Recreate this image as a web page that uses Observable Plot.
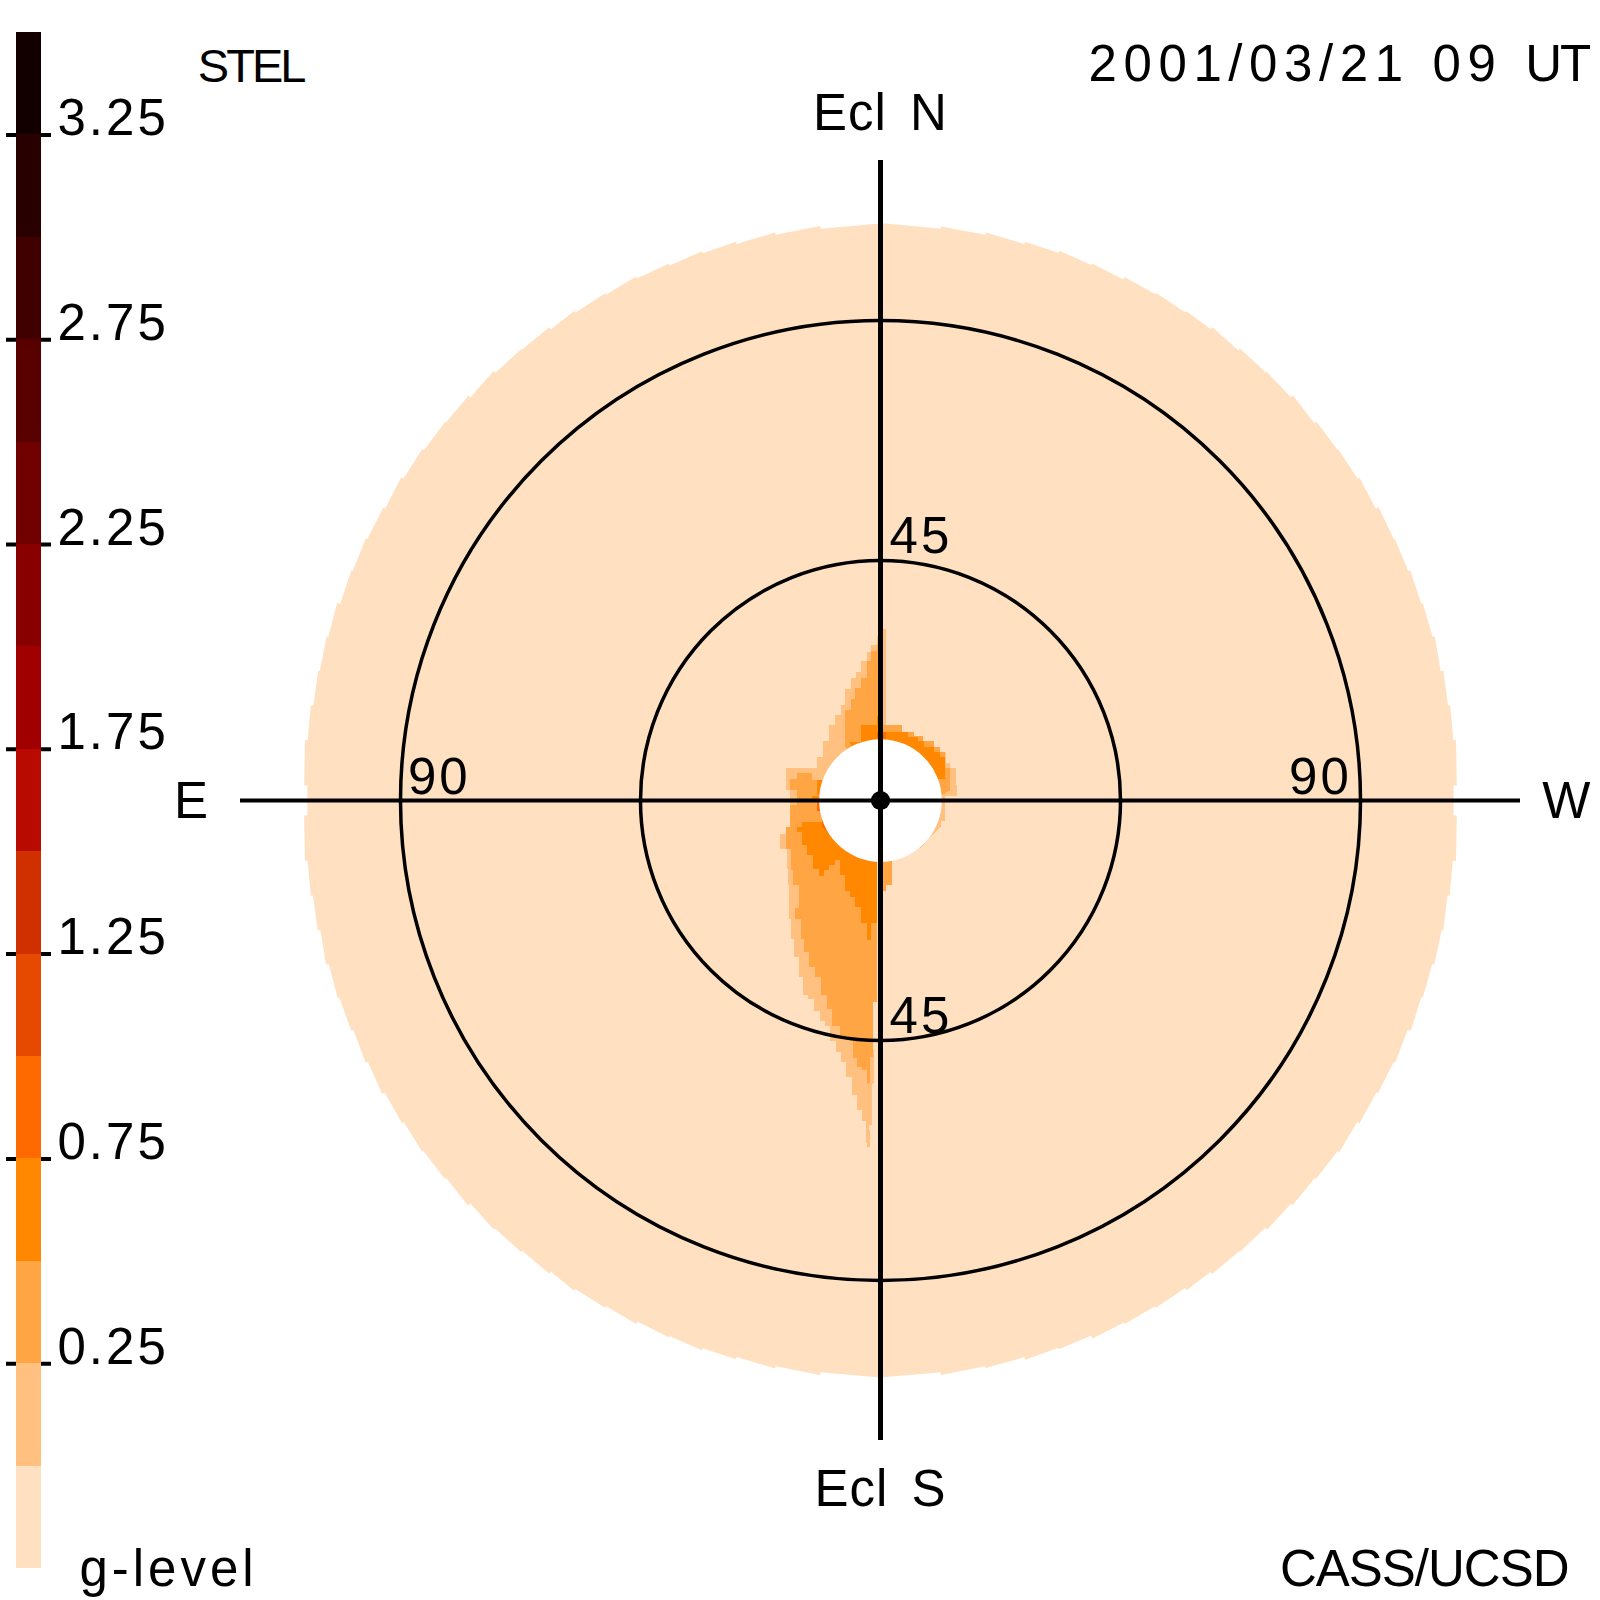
<!DOCTYPE html>
<html>
<head>
<meta charset="utf-8">
<script src="https://cdn.jsdelivr.net/npm/d3@7"></script>
<script src="https://cdn.jsdelivr.net/npm/@observablehq/plot@0.6"></script>
<style>
html,body{margin:0;padding:0;background:#fff}
#chart{position:relative;width:1600px;height:1600px;overflow:hidden}
#chart svg{position:absolute;left:0;top:0}
.t-num text{letter-spacing:3px}
.t-stel text{letter-spacing:-3px;font-size:47px}
.t-date text{letter-spacing:6.6px;word-spacing:2px}
.t-date tspan{letter-spacing:-2px}
.t-ecl text{letter-spacing:1px;word-spacing:8px}
.t-glevel text{letter-spacing:4px}
.t-cass text{letter-spacing:-1px}
.t-side text{letter-spacing:0}
</style>
</head>
<body>
<div id="chart"></div>
<script>
// colour bar: lower bound of each g-level band, and its colour
const gLevels = [-0.25,0,0.25,0.5,0.75,1,1.25,1.5,1.75,2,2.25,2.5,2.75,3,3.25];
const gColors = ["#ffe0c1","#ffc080","#ffa544","#ff8800","#ff6a00","#e64a00","#d03000","#b80a00","#a00000","#880000","#700000","#580000","#400000","#280000","#120000"];
const gTicks = [0.25,0.75,1.25,1.75,2.25,2.75,3.25];
const gTickLabels = ["0.25","0.75","1.25","1.75","2.25","2.75","3.25"];

// elongation rings and central discs (degrees)
const ringElongations = [45,90];
const sunDisc = [11.5];
const centreDot = [1.8];
const axisHalfLength = [120];

// outer edge of the sky map: azimuth clockwise from N, radius at start and end of each sector
const edgeAz = [0,6,10.5,14.5,18,21.5,25,28.5,32,35,38.5,42,45.5,49,52.5,56,59.5,63,66.5,70,73.5,77,80.5,84,88.5,
  91.5,96,99.5,103,106.5,110,113.5,117,120.5,124,127.5,131,134.5,138,141.5,145,148,151.5,155,158.5,162,165.5,169.5,174,180,
  186,190.5,194.5,198,201.5,205,208.5,212,215,218.5,222,225.5,229,232.5,236,239.5,243,246.5,250,253.5,257,260.5,264,268.5,
  271.5,276,279.5,283,286.5,290,293.5,297,300.5,304,307.5,311,314.5,318,321.5,325,328,331.5,335,338.5,342,345.5,349.5,354,360];
const edgeStart = [108.3,108.2,108.3,108.2,108.4,108.2,108.3,108.3,108.2,108.4,108.3,108.2,108.4,108.3,108.2,108.3,108.4,108.2,108.3,108.2,108.4,108.3,108.3,108.5,
  107.5,
  108.1,107.9,107.8,108.0,107.9,107.9,107.8,108.0,107.9,107.8,108.0,107.9,107.9,107.8,108.0,107.9,107.8,107.9,108.0,107.8,107.9,107.8,107.9,107.8,
  108.2,108.3,108.3,108.2,108.4,108.2,108.3,108.2,108.4,108.3,108.2,108.3,108.4,108.2,108.3,108.2,108.4,108.3,108.2,108.3,108.4,108.3,108.3,108.5,
  107.5,
  108.1,108.0,107.8,107.9,108.0,107.8,107.9,108.0,107.8,107.9,107.9,108.0,107.8,107.9,108.0,107.8,107.9,107.9,108.0,107.8,107.9,107.8,107.9,107.8];
const edgeEnd = [107.8,107.9,107.8,108.0,107.9,107.8,108.0,107.9,107.9,107.8,108.0,107.9,107.8,108.0,107.9,107.8,108.0,107.9,107.9,108.0,107.8,107.9,108.0,108.1,
  107.5,
  108.5,108.2,108.3,108.3,108.2,108.4,108.3,108.2,108.3,108.4,108.2,108.3,108.3,108.2,108.4,108.3,108.2,108.3,108.4,108.2,108.3,108.2,108.3,108.2,
  107.8,107.9,107.8,108.0,107.9,107.8,107.9,108.0,107.8,107.9,108.0,107.8,107.9,108.0,107.8,107.9,107.9,107.8,108.0,107.9,107.8,107.9,108.0,108.1,
  107.5,
  108.5,108.3,108.2,108.3,108.4,108.2,108.3,108.2,108.4,108.3,108.2,108.3,108.4,108.2,108.3,108.3,108.2,108.4,108.2,108.3,108.2,108.3,108.3,108.2];

// g-level contours of the plume: [east-west deg, north-south deg]
const band0Main = [[1.1,15.9],[1.1,32.1],[0.4,32.1],[0.4,30.9],[-0.6,30.9],[-0.6,30],[-0.6,29.1],[-1.7,29.1],[-1.7,27.9],[-2.6,27.9],[-2.6,26.1],[-3.6,26.1],[-3.6,24.1],[-4.6,24.1],[-4.6,23],[-5.6,23],[-5.6,20.9],[-6.6,20.9],[-6.6,18],[-7.5,18],[-7.5,16.1],[-8.6,16.1],[-8.6,14.1],[-9.6,14.1],[-9.6,11.1],[-10.8,11.1],[-10.8,8.1],[-11.9,8.1],[-11.9,6.1],[-17.8,6.1],[-17.8,2],[-16.9,2],[-16.9,-5],[-17.8,-5],[-17.8,-6.25],[-18.8,-6.25],[-18.8,-9.1],[-17.6,-9.1],[-17.6,-12.8],[-17.4,-12.8],[-17.4,-15.9],[-17.1,-15.9],[-17.1,-22.2],[-16.8,-22.2],[-16.8,-25.9],[-16.3,-25.9],[-16.3,-29.4],[-15.3,-29.4],[-15.3,-33.1],[-14.6,-33.1],[-14.6,-36.4],[-13.6,-36.4],[-13.6,-37.3],[-12.5,-37.3],[-12.5,-39.4],[-11.4,-39.4],[-11.4,-41.25],[-10.5,-41.25],[-10.5,-42.2],[-9.5,-42.2],[-9.5,-45],[-8.4,-45],[-8.4,-47.1],[-7.5,-47.1],[-7.5,-49.1],[-6.4,-49.1],[-6.4,-51.9],[-5.4,-51.9],[-5.4,-55.2],[-4.4,-55.2],[-4.4,-58.1],[-3.5,-58.1],[-3.5,-60],[-2.75,-60],[-2.75,-63.5],[-2.5,-65],[-1.9,-65],[-2.1,-60.9],[-1.6,-60.9],[-1.6,-53.1],[-1.25,-53],[-1.25,-48],[-1.4,-45],[-1.4,-37.8],[-0.75,-37.8],[-0.75,-11.25],[0,0]];
const band0West = [[0.5,14.1],[4.1,14.1],[4.1,12.9],[6.25,12.9],[6.25,12.1],[8,12.1],[8,11.1],[10,11.1],[10,10.1],[11.1,10.1],[11.1,9.1],[12.2,9.1],[12.2,7.1],[13.1,7.1],[13.1,6.1],[14.2,6.1],[14.2,3],[14.3,3],[14.3,0.9],[12,0.9],[12,-0.6],[12.1,-3.75],[11.25,-3.75],[11.25,-5],[9.3,-6.9],[7.6,-8.8],[1.25,-11.25],[0,0]];
const band25Upper = [[0,29.4],[-0.6,29.4],[-0.6,28.1],[-1.7,28.1],[-1.7,26.1],[-2.6,26.1],[-2.6,23],[-3.6,23],[-3.6,21.1],[-4.7,21.1],[-4.7,19.1],[-5.6,19.1],[-5.6,17],[-6.6,17],[-6.6,10],[0,0]];
const band25South = [[-11.25,3.9],[-12.8,3.9],[-12.8,5.1],[-15.75,5.1],[-15.75,4.1],[-16.9,4.1],[-16.9,1.9],[-15.75,1.9],[-15.75,-0.9],[-16.9,-0.9],[-16.9,-5],[-17.8,-5],[-17.8,-9.1],[-16.7,-9.1],[-16.7,-13],[-16.4,-13],[-16.4,-15.9],[-15.3,-15.9],[-15.3,-20.1],[-16.1,-20.1],[-16.1,-22.2],[-15,-22.2],[-15,-25.9],[-14.4,-25.9],[-14.4,-28.4],[-13.4,-28.4],[-13.4,-31.25],[-12.3,-31.25],[-12.3,-33.1],[-11.25,-33.1],[-11.25,-36.4],[-10.1,-36.4],[-10.1,-39.1],[-9.1,-39.1],[-9.1,-42.2],[-7.6,-42.2],[-7.6,-44.4],[-5.9,-45],[-5.2,-45],[-5.2,-48.25],[-4.4,-48.25],[-4.4,-50],[-3.4,-50],[-3.4,-50.6],[-2.6,-50.6],[-2.6,-53],[-1.9,-53],[-1.9,-48.1],[-1.4,-48],[-1.4,-37.8],[-0.75,-37.8],[-0.75,-11.25],[0,0]];
const band25West = [[0.5,14.1],[4.1,14.1],[4.1,12.9],[6.25,12.9],[6.25,12.1],[8,12.1],[8,11.1],[10,11.1],[10,10.1],[11.1,10.1],[11.1,9.1],[12,9.1],[12,6.1],[13.1,6.1],[13.1,1.9],[11.25,0.9],[0,0]];
const band25Right = [[0.5,-11.25],[2.2,-11.25],[2.2,-15.9],[1.1,-15.9],[1.1,-17],[0.5,-17],[0,0]];
const band50Top = [[-3.75,14.1],[-0.6,14.1],[-0.6,15.9],[0.5,15.9],[0.5,12.9],[3.1,12.9],[5.1,12.9],[5.1,12],[7,12],[7,11.1],[8.1,11.1],[8.1,10.1],[10,10.1],[10,9.1],[11.1,9.1],[11.1,8.1],[12,8.1],[12.2,4.1],[11.25,4.1],[0,0],[-5.8,10.9],[-3.75,10.9]];
const band50Lobe = [[-11.9,3.9],[-10,3.9],[-10,1],[-11.9,1]];
const band50Nub = [[-12.8,0.9],[-10,0.9],[-10,-1.9],[-11.6,-1.9],[-11.6,-0.1],[-12.8,-0.1]];
const band50South = [[-10.9,-3.1],[-10.9,-4.1],[-14.7,-4.1],[-14.7,-5],[-15.75,-5],[-15.75,-5.9],[-14.8,-5.9],[-14.8,-8.4],[-13.75,-8.4],[-13.75,-10.3],[-12.6,-10.3],[-12.6,-12.8],[-11.6,-12.8],[-11.6,-14.1],[-10.6,-14.1],[-10.6,-13],[-9.7,-13],[-9.7,-12],[-8.6,-12],[-8.6,-11.1],[-7.6,-11.1],[-7.6,-13.9],[-6.7,-13.9],[-6.7,-17],[-5.75,-17],[-5.75,-18],[-4.7,-18],[-4.7,-20],[-3.6,-20],[-3.6,-23],[-2.6,-23],[-2.6,-26.1],[-1.7,-26.1],[-1.7,-23],[-0.75,-23],[-0.75,-10.9],[0,0]];
const band75Top = [[-0.6,12.8],[1.1,12.8],[1.1,11.4],[-0.6,11.4]];
const band75Nub = [[-11.9,0],[-10.5,0],[-10.5,-1.9],[-11.9,-1.9]];
const band75South = [[-10.9,-3.9],[-10.9,-4.9],[-9.9,-5.9],[-9.5,-5.9],[-9.5,-4]];

// text
const labelNum = ["90","90","45","45"];
const labelNumX = [-88.6,76.6,1.7,1.7];
const labelNumY = [1.3,1.3,46.5,-43.5];
const eclLabels = ["Ecl N","Ecl S"];
const eclY = [125.8,-132.2];
const sideLabels = ["E","W"];
const sideX = [-129.3,128.6];
const sideY = [-3.2,-3.2];

// tables for the marks
const edgeTable = edgeStart.flatMap((r,i) => [[edgeAz[i],r],[edgeAz[i+1],edgeEnd[i]]])
  .map(([az,r]) => ({part:"disc",level:-0.25,x:r*Math.sin(az*Math.PI/180),y:r*Math.cos(az*Math.PI/180)}));
const contours = [
  ["b0m",0,band0Main],["b0w",0,band0West],
  ["b25u",0.25,band25Upper],["b25s",0.25,band25South],["b25w",0.25,band25West],["b25r",0.25,band25Right],
  ["b50t",0.5,band50Top],["b50l",0.5,band50Lobe],["b50n",0.5,band50Nub],["b50s",0.5,band50South],
  ["b75t",0.75,band75Top],["b75n",0.75,band75Nub],["b75s",0.75,band75South]
];
const contourTable = contours.flatMap(([part,level,pts]) => pts.map(([x,y]) => ({part,level,x,y})));
const colorScale = {type:"ordinal",domain:gLevels,range:gColors};
const font = "'Liberation Sans', sans-serif";
const txt = {fontSize:51,lineAnchor:"bottom",fill:"black",fontFamily:font};

const main = Plot.plot({
  width:1600,height:1600,margin:0,
  x:{domain:[-165,135],axis:null},
  y:{domain:[-150,150],axis:null},
  r:{type:"linear",domain:[0,90],range:[0,480]},
  color:colorScale,
  style:{background:"white",fontFamily:font},
  marks:[
    Plot.line(edgeTable,{x:"x",y:"y",z:"part",fill:"level",stroke:"none"}),
    Plot.line(contourTable,{x:"x",y:"y",z:"part",fill:"level",stroke:"none",shapeRendering:"crispEdges"}),
    Plot.dot(sunDisc,{x:()=>0,y:()=>0,r:d=>d,fill:"white",stroke:"none"}),
    Plot.dot(ringElongations,{x:()=>0,y:()=>0,r:d=>d,fill:"none",stroke:"black",strokeWidth:3.5}),
    Plot.ruleX([0],{y1:d=>-axisHalfLength[0],y2:d=>axisHalfLength[0],stroke:"black",strokeWidth:5}),
    Plot.ruleY([0],{x1:d=>-axisHalfLength[0],x2:d=>axisHalfLength[0],stroke:"black",strokeWidth:4}),
    Plot.dot(centreDot,{x:()=>0,y:()=>0,r:d=>d,fill:"black",stroke:"none"}),
    Plot.text(labelNum,{x:(d,i)=>labelNumX[i],y:(d,i)=>labelNumY[i],text:d=>d,textAnchor:"start",className:"t-num",...txt}),
    Plot.text(eclLabels,{x:()=>0,y:(d,i)=>eclY[i],text:d=>d,textAnchor:"middle",className:"t-ecl",...txt}),
    Plot.text(sideLabels,{x:(d,i)=>sideX[i],y:(d,i)=>sideY[i],text:d=>d,textAnchor:"middle",className:"t-side",...txt}),
    Plot.text(["STEL"],{x:()=>-128,y:()=>134.8,text:d=>d,textAnchor:"start",className:"t-stel",...txt}),
    Plot.text(["2001/03/21 09 UT"],{x:()=>39,y:()=>135,text:d=>d,textAnchor:"start",className:"t-date",...txt}),
    Plot.text(["g-level"],{x:()=>-150.2,y:()=>-147.3,text:d=>d,textAnchor:"start",className:"t-glevel",...txt}),
    Plot.text(["CASS/UCSD"],{x:()=>74.9,y:()=>-147.3,text:d=>d,textAnchor:"start",className:"t-cass",...txt})
  ]
});

const bar = Plot.plot({
  width:1600,height:1600,marginLeft:16,marginRight:1559,marginTop:32,marginBottom:32,
  x:{domain:[0,1],axis:null},
  y:{domain:[-0.25,3.5],axis:null},
  color:colorScale,
  style:{background:"transparent",fontFamily:font},
  marks:[
    Plot.ruleY(gTicks,{x1:()=>-0.4,x2:()=>1.4,stroke:"black",strokeWidth:4}),
    Plot.rect(gLevels,{x1:()=>0,x2:()=>1,y1:d=>d,y2:d=>d+0.25,fill:d=>d,shapeRendering:"crispEdges"}),
    Plot.text(gTickLabels,{x:()=>1.64,y:(d,i)=>gTicks[i],text:d=>d,textAnchor:"start",className:"t-num",...txt})
  ]
});
// tighten only the last word of the date line, keeping it one text
const dateText = main.querySelector(".t-date text");
if (dateText) dateText.innerHTML = '2001/03/21 09 <tspan>UT</tspan>';
document.getElementById("chart").append(main,bar);
</script>
</body>
</html>
